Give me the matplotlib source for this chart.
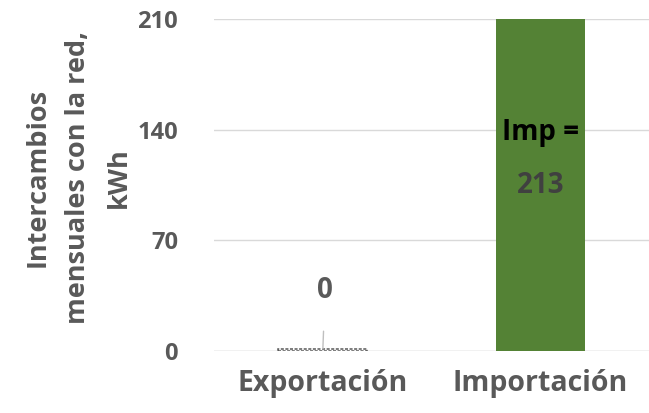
import matplotlib.pyplot as plt

plt.rcParams['font.family'] = ['Open Sans', 'DejaVu Sans']

# data
categories = ['Exportación', 'Importación']
values = [1.5, 213]
value_labels = ['0', '213']
yticks = [0, 70, 140, 210]

gray = '#595959'

fig = plt.figure(figsize=(6.49, 4.13), dpi=100)
ax = fig.add_axes([0.330, 0.150, 0.670, 0.804])

x = range(len(categories))
bars = ax.bar(x, values, width=0.41, color=['white', '#548235'], zorder=2)
# tiny export bar drawn as a dashed outline
bars[0].set_edgecolor('#595959')
bars[0].set_linewidth(1.1)
bars[0].set_linestyle((0, (2, 1)))

ax.set_ylim(0, 210)
ax.set_xlim(-0.5, 1.5)
ax.set_yticks(yticks)
ax.set_xticks(list(x))
ax.set_xticklabels(categories, fontsize=20.5)
ax.grid(axis='y', color='#d9d9d9', linewidth=1, zorder=0)
for s in ax.spines.values():
    s.set_visible(False)
ax.axhline(0, color='#d9d9d9', linewidth=1, zorder=1)
ax.tick_params(axis='y', length=0, labelsize=17, labelcolor=gray, pad=26)
ax.tick_params(axis='x', length=0, labelcolor=gray, pad=13)
for lab in ax.get_xticklabels() + ax.get_yticklabels():
    lab.set_fontweight('bold')

ax.set_ylabel('Intercambios\nmensuales con la red,\nkWh', fontsize=19.5,
              fontweight='bold', color=gray, linespacing=1.72)
ax.yaxis.set_label_coords(-0.19, 0.522)

# labels
ax.annotate(value_labels[0], xy=(0, values[0]), xytext=(0.01, 38),
            ha='center', va='center', fontsize=20, fontweight='bold', color=gray,
            arrowprops=dict(arrowstyle='-', color='#bfbfbf', lw=1,
                            patchA=None, shrinkA=29, shrinkB=0))
ax.text(1, 138, 'Imp =', ha='center', va='center', fontsize=20,
        fontweight='bold', color='black')
ax.text(1, 105, value_labels[1], ha='center', va='center', fontsize=20,
        fontweight='bold', color='#404040')

fig.savefig('out.png', dpi=100)
